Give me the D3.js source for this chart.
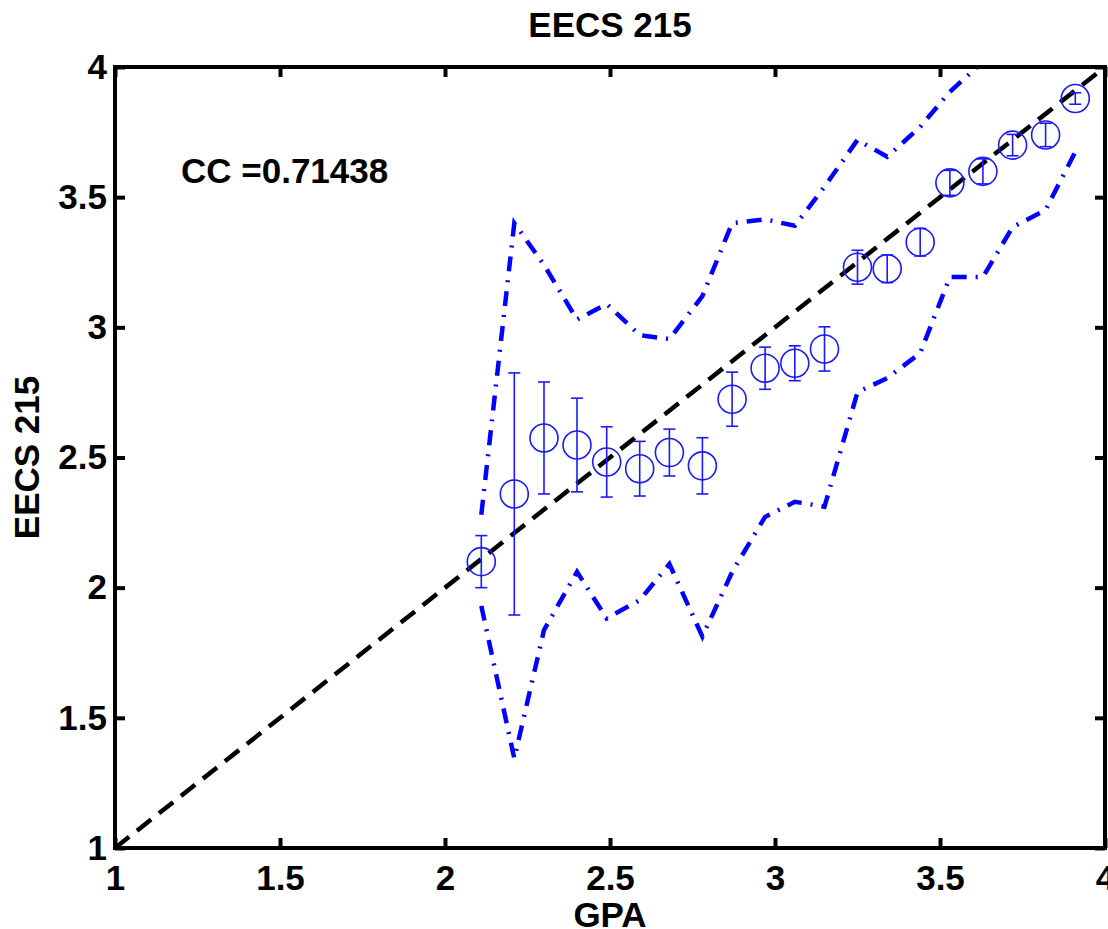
<!DOCTYPE html>
<html>
<head>
<meta charset="utf-8">
<title>EECS 215</title>
<script src="https://cdn.jsdelivr.net/npm/d3@7"></script>
<style>
  body { margin: 0; background: #fff; }
  text { font-family: "Liberation Sans", Arial, sans-serif; font-weight: bold; }
</style>
</head>
<body>
<svg id="chart" width="1108" height="929"></svg>
<script>
// binned GPA vs course grade
const gpa = [2.11, 2.21, 2.30, 2.40, 2.49, 2.59, 2.68, 2.78, 2.87, 2.97,
             3.06, 3.15, 3.25, 3.34, 3.44, 3.53, 3.63, 3.72, 3.82, 3.91];
const meanGrade = [2.10, 2.36, 2.575, 2.548, 2.483, 2.457, 2.519, 2.468, 2.724, 2.843,
                   2.862, 2.917, 3.231, 3.225, 3.327, 3.555, 3.599, 3.700, 3.739, 3.879];
const errBar = [0.10, 0.465, 0.215, 0.18, 0.135, 0.105, 0.09, 0.108, 0.104, 0.081,
                0.067, 0.085, 0.065, 0.053, 0.053, 0.048, 0.048, 0.041, 0.045, 0.022];
const upperBand = [2.28, 3.40, 3.24, 3.03, 3.09, 2.97, 2.955, 3.12, 3.40, 3.415,
                   3.39, 3.54, 3.72, 3.655, 3.77, 3.905, 4.02, 4.10, 4.10, 4.08];
const lowerBand = [1.93, 1.344, 1.837, 2.061, 1.882, 1.952, 2.091, 1.812, 2.06, 2.272,
                   2.33, 2.311, 2.751, 2.805, 2.901, 3.193, 3.193, 3.385, 3.451, 3.674];
const fitLine = [[1, 1], [4, 4]];
const xTicks = [1, 1.5, 2, 2.5, 3, 3.5, 4];
const yTicks = [1, 1.5, 2, 2.5, 3, 3.5, 4];
const ccText = "CC =0.71438";

const svg = d3.select("#chart");
const box = {left: 115, right: 1105, top: 67, bottom: 848};

const x = d3.scaleLinear().domain([1, 4]).range([box.left, box.right]);
const y = d3.scaleLinear().domain([1, 4]).range([box.bottom, box.top]);

svg.append("defs").append("clipPath").attr("id", "plotclip")
  .append("rect")
  .attr("x", box.left).attr("y", box.top)
  .attr("width", box.right - box.left).attr("height", box.bottom - box.top);

const plot = svg.append("g").attr("clip-path", "url(#plotclip)");

// fit line
const line = d3.line().x(d => x(d[0])).y(d => y(d[1]));
plot.append("path")
  .attr("d", line(fitLine))
  .attr("fill", "none")
  .attr("stroke", "#000")
  .attr("stroke-width", 4.5)
  .attr("stroke-dasharray", "18,10");

// bands
const band = d3.line().x((d, i) => x(gpa[i])).y(d => y(d));
[upperBand, lowerBand].forEach(b => {
  plot.append("path")
    .attr("d", band(b))
    .attr("fill", "none")
    .attr("stroke", "#0000ff")
    .attr("stroke-width", 4.5)
    .attr("stroke-dasharray", "15,9,2,9");
});

// error bars + circles
const pts = plot.append("g")
  .attr("stroke", "#1a1aff")
  .attr("stroke-width", 1.6)
  .attr("fill", "none");

gpa.forEach((g, i) => {
  const cx = x(g);
  const yTop = y(meanGrade[i] + errBar[i]);
  const yBot = y(meanGrade[i] - errBar[i]);
  pts.append("line").attr("x1", cx).attr("x2", cx).attr("y1", yTop).attr("y2", yBot);
  pts.append("line").attr("x1", cx - 6).attr("x2", cx + 6).attr("y1", yTop).attr("y2", yTop);
  pts.append("line").attr("x1", cx - 6).attr("x2", cx + 6).attr("y1", yBot).attr("y2", yBot);
  pts.append("circle").attr("cx", cx).attr("cy", y(meanGrade[i])).attr("r", 14);
});

// axes
const fmt = d => String(d);
function styleAxis(g) {
  g.select(".domain").remove();
  g.selectAll(".tick line").attr("stroke", "#000").attr("stroke-width", 4);
  g.selectAll(".tick text").attr("fill", "#000").style("font-size", "35px");
}

svg.append("g").attr("transform", `translate(0,${box.bottom})`)
  .call(d3.axisBottom(x).tickValues(xTicks).tickFormat(fmt).tickSize(-10).tickPadding(17))
  .call(styleAxis);
svg.append("g").attr("transform", `translate(0,${box.top})`)
  .call(d3.axisTop(x).tickValues(xTicks).tickFormat("").tickSize(-10))
  .call(styleAxis);
svg.append("g").attr("transform", `translate(${box.left},0)`)
  .call(d3.axisLeft(y).tickValues(yTicks).tickFormat(fmt).tickSize(-10).tickPadding(8))
  .call(styleAxis);
svg.append("g").attr("transform", `translate(${box.right},0)`)
  .call(d3.axisRight(y).tickValues(yTicks).tickFormat("").tickSize(-10))
  .call(styleAxis);

svg.append("rect")
  .attr("x", box.left).attr("y", box.top)
  .attr("width", box.right - box.left).attr("height", box.bottom - box.top)
  .attr("fill", "none").attr("stroke", "#000").attr("stroke-width", 4);

// labels
svg.append("text")
  .attr("x", (box.left + box.right) / 2).attr("y", 37)
  .attr("text-anchor", "middle").style("font-size", "35px")
  .text("EECS 215");

svg.append("text")
  .attr("x", (box.left + box.right) / 2).attr("y", 927)
  .attr("text-anchor", "middle").style("font-size", "35px")
  .text("GPA");

svg.append("text")
  .attr("transform", `translate(39,${(box.top + box.bottom) / 2}) rotate(-90)`)
  .attr("text-anchor", "middle").style("font-size", "35px")
  .text("EECS 215");

svg.append("text")
  .attr("x", x(1.2)).attr("y", y(3.6)).attr("dy", "0.35em")
  .style("font-size", "35px")
  .text(ccText);
</script>
</body>
</html>
